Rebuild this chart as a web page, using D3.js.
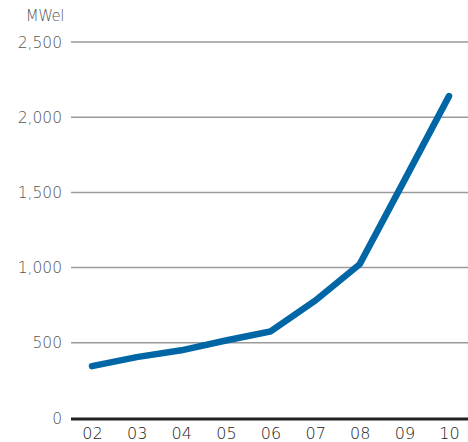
<!DOCTYPE html>
<html><head><meta charset="utf-8">
<script src="https://cdn.jsdelivr.net/npm/d3@7"></script>
<style>body{margin:0;background:#fff}svg{display:block}</style>
</head><body><svg id="c" width="468" height="442"></svg>
<script>
const years = ["02","03","04","05","06","07","08","09","10"];
const values = [345, 405, 450, 515, 575, 780, 1023, 1580, 2140];
const yTicks = [0, 500, 1000, 1500, 2000, 2500];
const unitLabel = "MWel";

const svg = d3.select("#c");
const W = 468, H = 442;
const x = d3.scalePoint().domain(years).range([92, 449]);
const y = d3.scaleLinear().domain([0, 2500]).range([418, 42]);

const font = "'DejaVu Sans', sans-serif";

// gridlines
svg.append("g").selectAll("line").data(yTicks.filter(d => d > 0)).join("line")
  .attr("x1", 71).attr("x2", W).attr("y1", d => y(d)).attr("y2", d => y(d))
  .attr("stroke", "#9a9a9a").attr("stroke-width", 1.5);

// y labels
svg.append("g").selectAll("text").data(yTicks).join("text")
  .attr("x", 62).attr("y", d => y(d)).attr("dy", "0.36em")
  .attr("text-anchor", "end").attr("font-family", font).attr("font-weight", 200)
  .attr("font-size", 15.5).attr("fill", "#555")
  .text(d => d3.format(",")(d));

svg.append("text").attr("x", 64).attr("y", 21).attr("text-anchor", "end")
  .attr("font-family", font).attr("font-weight", 200).attr("font-size", 15)
  .attr("letter-spacing", -0.5).attr("fill", "#555")
  .text(unitLabel);

// x axis
const xa = svg.append("g").attr("transform", `translate(0,${y(0)})`)
  .call(d3.axisBottom(x).tickSize(0).tickPadding(0));
xa.select(".domain").remove();
xa.selectAll("text").attr("dy", null).attr("y", 20.5)
  .attr("font-family", font).attr("font-weight", 200).attr("font-size", 16).attr("fill", "#222");
svg.append("line").attr("x1", 71).attr("x2", W).attr("y1", y(0) + 1).attr("y2", y(0) + 1)
  .attr("stroke", "#222").attr("stroke-width", 3);

// line
svg.append("path").datum(values)
  .attr("d", d3.line().x((d, i) => x(years[i])).y(d => y(d)))
  .attr("fill", "none").attr("stroke", "#0066a6").attr("stroke-width", 6.5)
  .attr("stroke-linecap", "round").attr("stroke-linejoin", "miter");
</script></body></html>
